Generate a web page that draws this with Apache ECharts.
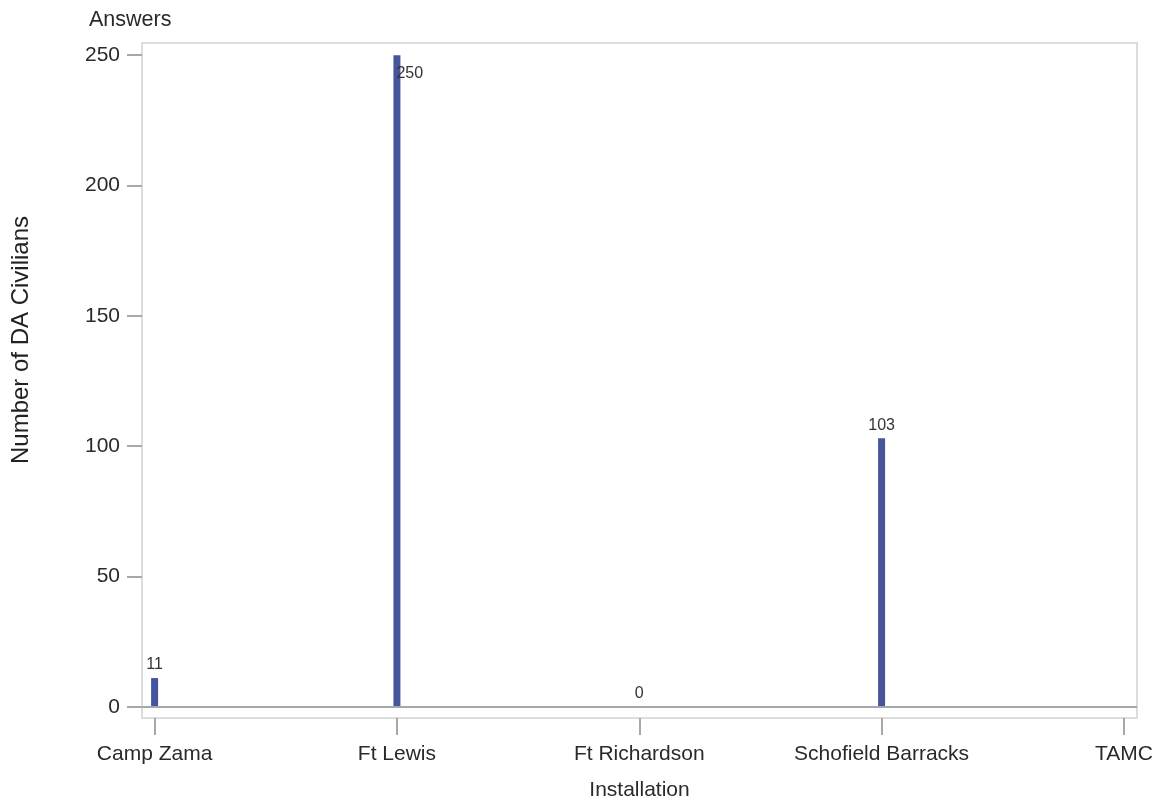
<!DOCTYPE html>
<html>
<head>
<meta charset="utf-8">
<script src="https://cdn.jsdelivr.net/npm/echarts@6/dist/echarts.min.js"></script>
<style>html,body{margin:0;padding:0;background:#fff;}#c{width:1159px;height:803px;}</style>
</head>
<body>
<div id="c"></div>
<script>
const categories = ['Camp Zama', 'Ft Lewis', 'Ft Richardson', 'Schofield Barracks', 'TAMC'];
const values = [11, 250, 0, 103, null];
const yTicks = [0, 50, 100, 150, 200, 250];
const xTicks = [0, 1, 2, 3, 4];

const FONT = '"Liberation Sans", Arial, sans-serif';
const chart = echarts.init(document.getElementById('c'), null, {renderer: 'canvas'});

const barData = categories.map((c, i) => {
  if (values[i] === null) return [i, '-'];
  const item = {value: [i, values[i]]};
  if (values[i] === 250) {
    item.label = {position: [3, 10]};
  }
  return item;
});

chart.setOption({
  animation: false,
  backgroundColor: '#fff',
  title: {
    text: 'Answers', left: 84, top: 4,
    textStyle: {fontFamily: FONT, fontSize: 21.5, fontWeight: 'normal', color: '#2a2a2a'}
  },
  graphic: [{
    type: 'text', x: 21, y: 340, rotation: Math.PI / 2,
    style: {text: 'Number of DA Civilians', font: '24px ' + FONT, fill: '#222', align: 'center', verticalAlign: 'middle'}
  }],
  grid: {
    left: 142, right: 22, top: 43, bottom: 85,
    outerBoundsMode: 'none', containLabel: false,
    show: true, borderColor: '#dcdcdc', borderWidth: 2, backgroundColor: '#fff'
  },
  xAxis: {
    type: 'value', min: -0.052, max: 4.054,
    name: 'Installation', nameLocation: 'middle', nameGap: 62,
    nameTextStyle: {fontFamily: FONT, fontSize: 21, color: '#2a2a2a'},
    axisLine: {show: false, onZero: false},
    splitLine: {show: false},
    axisTick: {show: true, length: 17, customValues: xTicks, lineStyle: {color: '#a8a8a8', width: 2}},
    axisLabel: {
      customValues: xTicks, margin: 26,
      fontFamily: FONT, fontSize: 21, color: '#2a2a2a',
      formatter: v => categories[Math.round(v)] || ''
    }
  },
  yAxis: {
    type: 'value', min: -4.33, max: 254.7,
    axisLine: {show: false, onZero: false},
    splitLine: {show: false},
    axisTick: {show: true, length: 15, customValues: yTicks, lineStyle: {color: '#a8a8a8', width: 2}},
    axisLabel: {customValues: yTicks, margin: 22, fontFamily: FONT, fontSize: 21, color: '#2a2a2a'}
  },
  series: [{
    type: 'bar',
    barWidth: 7,
    data: barData,
    itemStyle: {color: '#46559b'},
    label: {
      show: true, position: 'top', distance: 5,
      fontFamily: FONT, fontSize: 16, color: '#333'
    },
    markLine: {
      silent: true, symbol: 'none',
      label: {show: false},
      lineStyle: {color: '#a4a8ac', width: 2, type: 'solid'},
      data: [{yAxis: 0}]
    },
    z: 3
  }]
});
</script>
</body>
</html>
